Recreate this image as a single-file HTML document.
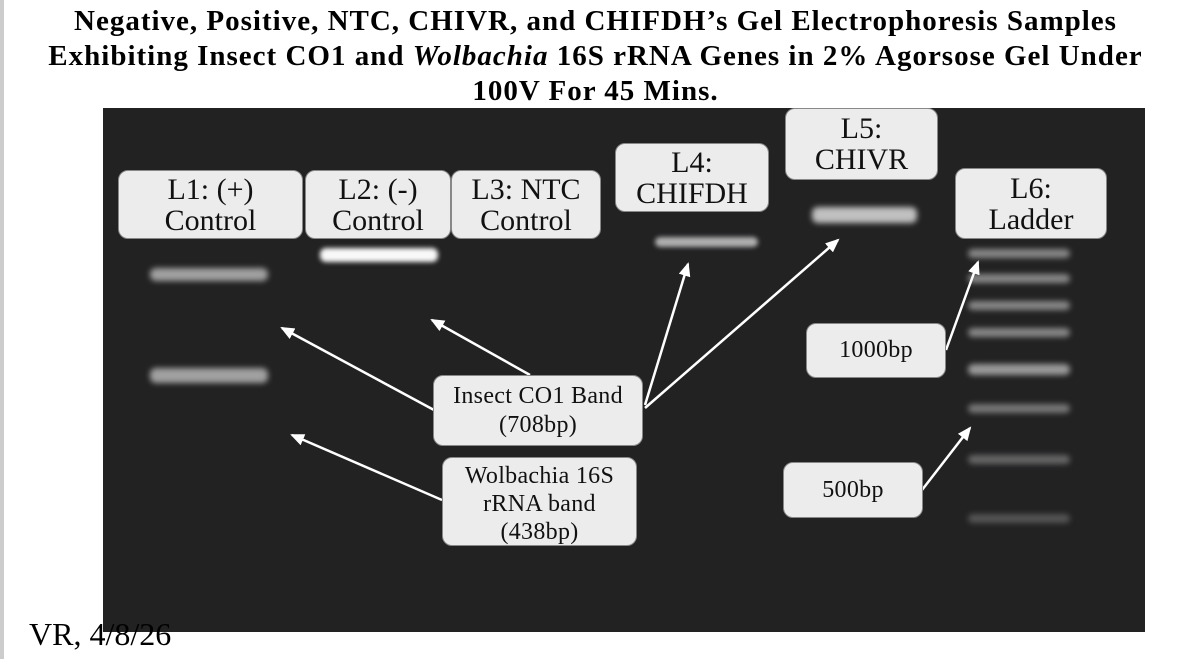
<!DOCTYPE html>
<html><head><meta charset="utf-8"><style>
html,body{margin:0;padding:0;background:#fff;}
body{width:1191px;height:659px;position:relative;overflow:hidden;font-family:"Liberation Serif","Times New Roman",Times,serif;}
.t{position:absolute;left:0;width:1191px;text-align:center;font-weight:bold;font-size:29px;letter-spacing:1px;line-height:34px;color:#000;white-space:nowrap;}
.gel{position:absolute;left:103px;top:108px;width:1042px;height:524px;background:#222223;}
.box{position:absolute;background:#ececec;border:1.5px solid #888;border-radius:10px;box-sizing:border-box;text-align:center;color:#111;display:flex;align-items:center;justify-content:center;white-space:nowrap;}
.band{position:absolute;border-radius:6px;}
.lb{position:absolute;left:968px;width:102px;height:9px;background:#888;filter:blur(3px);border-radius:5px;}
.big{font-size:30px;line-height:31px;}
.sm{font-size:24px;letter-spacing:0.3px;}
</style></head><body>
<div style="position:absolute;left:0;top:0;width:4px;height:659px;background:#ccc"></div>
<div class="t" style="top:4px">Negative, Positive, NTC, CHIVR, and CHIFDH’s Gel Electrophoresis Samples</div>
<div class="t" style="top:39px">Exhibiting Insect CO1 and <i>Wolbachia</i> 16S rRNA Genes in 2% Agorsose Gel Under</div>
<div class="t" style="top:74px">100V For 45 Mins.</div>
<div class="gel"></div>
<div class="band" style="left:150px;top:268px;width:118px;height:13px;background:#a0a0a0;filter:blur(3px)"></div>
<div class="band" style="left:150px;top:368px;width:118px;height:15px;background:#a0a0a0;filter:blur(3px)"></div>
<div class="band" style="left:320px;top:248px;width:118px;height:14px;background:#f8f8f8;filter:blur(2.5px)"></div>
<div class="band" style="left:655px;top:237px;width:103px;height:10px;background:#b0b0b0;filter:blur(2.5px)"></div>
<div class="band" style="left:812px;top:207px;width:105px;height:16px;background:#c0c0c0;filter:blur(3px)"></div>
<div class="lb" style="top:249px"></div>
<div class="lb" style="top:274px"></div>
<div class="lb" style="top:301px"></div>
<div class="lb" style="top:328px"></div>
<div class="lb" style="top:364px;height:11px;background:#9a9a9a"></div>
<div class="lb" style="top:404px;background:#777"></div>
<div class="lb" style="top:455px;background:#666"></div>
<div class="lb" style="top:514px;background:#555"></div>

<svg style="position:absolute;left:0;top:0" width="1191" height="659">
<defs>
<marker id="b" markerWidth="14" markerHeight="12" refX="12" refY="6" orient="auto" markerUnits="userSpaceOnUse"><path d="M0,0 L14,6 L0,12 z" fill="#fff"/></marker></defs>
<g stroke="#fff" stroke-width="2.5" fill="none">
<line x1="434" y1="410" x2="282" y2="328" marker-end="url(#b)"/>
<line x1="530" y1="375" x2="432" y2="320" marker-end="url(#b)"/>
<line x1="645" y1="405" x2="688" y2="264" marker-end="url(#b)"/>
<line x1="645" y1="408" x2="838" y2="240" marker-end="url(#b)"/>
<line x1="442" y1="500" x2="292" y2="435" marker-end="url(#b)"/>
<line x1="946" y1="350" x2="978" y2="262" marker-end="url(#b)"/>
<line x1="922" y1="490" x2="970" y2="428" marker-end="url(#b)"/>
</g></svg>

<div class="box big" style="left:118px;top:170px;width:185px;height:69px">L1: (+)<br>Control</div>
<div class="box big" style="left:305px;top:170px;width:146px;height:69px">L2: (-)<br>Control</div>
<div class="box big" style="left:451px;top:170px;width:150px;height:69px">L3: NTC<br>Control</div>
<div class="box big" style="left:615px;top:143px;width:154px;height:69px">L4:<br>CHIFDH</div>
<div class="box big" style="left:785px;top:108px;width:153px;height:72px">L5:<br>CHIVR</div>
<div class="box big" style="left:955px;top:168px;width:152px;height:71px">L6:<br>Ladder</div>
<div class="box sm" style="left:433px;top:375px;width:210px;height:71px;line-height:29px">Insect CO1 Band<br>(708bp)</div>
<div class="box sm" style="left:442px;top:457px;width:195px;height:89px;line-height:28px;padding-top:4px">Wolbachia 16S<br>rRNA band<br>(438bp)</div>
<div class="box sm" style="left:806px;top:323px;width:140px;height:55px">1000bp</div>
<div class="box sm" style="left:783px;top:462px;width:140px;height:56px">500bp</div>
<div style="position:absolute;left:29px;top:616px;font-size:32px;color:#000;white-space:nowrap">VR, 4/8/26</div>
</body></html>
